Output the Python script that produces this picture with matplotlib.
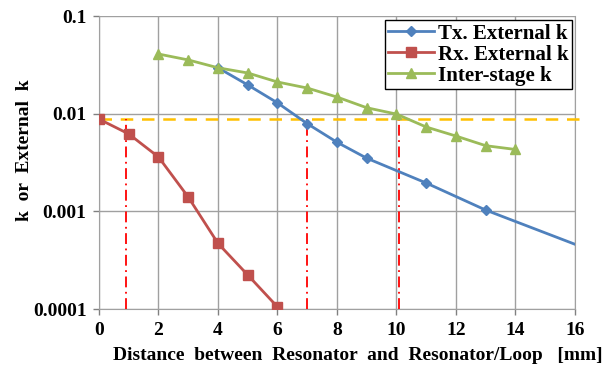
import numpy as np
import matplotlib.pyplot as plt
from matplotlib.ticker import FixedLocator, FuncFormatter

# Tx / Rx external coupling and inter-stage coupling vs. spacing
tx_x = [4, 5, 6, 7, 8, 9, 11, 13, 16]
tx_k = [0.0295, 0.0197, 0.0129, 0.0079, 0.0051, 0.0035, 0.00195, 0.00103, 0.00046]

rx_x = [0, 1, 2, 3, 4, 5, 6]
rx_k = [0.0088, 0.0062, 0.0036, 0.0014, 0.00047, 0.000223, 0.000105]

is_x = [2, 3, 4, 5, 6, 7, 8, 9, 10, 11, 12, 13, 14]
is_k = [0.0408, 0.0355, 0.0295, 0.0261, 0.0211, 0.0183, 0.0148, 0.0115,
        0.0099, 0.0073, 0.0059, 0.0047, 0.0043]

target_k = 0.0088
cross_x = [0.9, 7.0, 10.1]

x_ticks = [0, 2, 4, 6, 8, 10, 12, 14, 16]
y_ticks = [0.0001, 0.001, 0.01, 0.1]

plt.rcParams['font.family'] = ['Liberation Serif', 'DejaVu Serif']
plt.rcParams['font.weight'] = 'bold'

fig = plt.figure(figsize=(6.13, 3.67), dpi=100)
ax = fig.add_axes([0.1615, 0.158, 0.7765, 0.7984])

ax.set_yscale('log')
ax.set_xlim(0, 16)
ax.set_ylim(0.0001, 0.1)

ax.plot(tx_x, tx_k, color='#4F81BD', lw=2, marker='D', ms=5.5,
        markevery=list(range(len(tx_x) - 1)), label='Tx. External k', zorder=4)
ax.plot(rx_x, rx_k, color='#C0504D', lw=2, marker='s', ms=6.5,
        label='Rx. External k', zorder=4)
ax.plot(is_x, is_k, color='#9BBB59', lw=2, marker='^', ms=7,
        label='Inter-stage k', zorder=4)

# target coupling level and the spacings where it is reached
ax.plot([0, 16.2], [target_k, target_k], color='#FFC000', lw=1.8,
        ls=(0, (5, 3.5)), clip_on=False, zorder=3)
for xc in cross_x:
    ax.plot([xc, xc], [0.0001, target_k], color='#FF0000', lw=1.3,
            ls=(0, (6, 2.5, 1, 2.5)), zorder=3)

ax.xaxis.set_major_locator(FixedLocator(x_ticks))
ax.yaxis.set_major_locator(FixedLocator(y_ticks))
ax.yaxis.set_minor_locator(FixedLocator([]))
ax.yaxis.set_major_formatter(FuncFormatter(lambda v, p: '%g' % v))
ax.grid(True, color='#A0A0A0', lw=1)
ax.set_axisbelow(True)
for s in ax.spines.values():
    s.set_color('#A0A0A0')
ax.spines['top'].set_visible(False)
ax.tick_params(axis='both', colors='#808080', length=4, width=1,
               labelcolor='black', labelsize=14)
ax.tick_params(axis='x', pad=5)
ax.tick_params(axis='y', pad=5)
for lab in ax.get_xticklabels() + ax.get_yticklabels():
    lab.set_fontweight('bold')

fig.text(25 / 613, 1 - 150 / 367, 'k  or  External  k', rotation=90,
         fontsize=14, fontweight='bold', ha='center', va='center')
fig.text(113 / 613, 1 - 355 / 367, 'Distance  between  Resonator  and  Resonator/Loop   [mm]',
         fontsize=14, fontweight='bold', ha='left', va='center')

leg = ax.legend(loc='upper right', bbox_to_anchor=(0.993, 0.985), fontsize=15,
                frameon=True, fancybox=False, edgecolor='black', framealpha=1,
                borderpad=0.15, labelspacing=0.05, handlelength=2.2,
                handletextpad=0.2, borderaxespad=0)
leg.get_frame().set_linewidth(1)
for t in leg.get_texts():
    t.set_fontweight('bold')

fig.savefig('out.png', dpi=100)
